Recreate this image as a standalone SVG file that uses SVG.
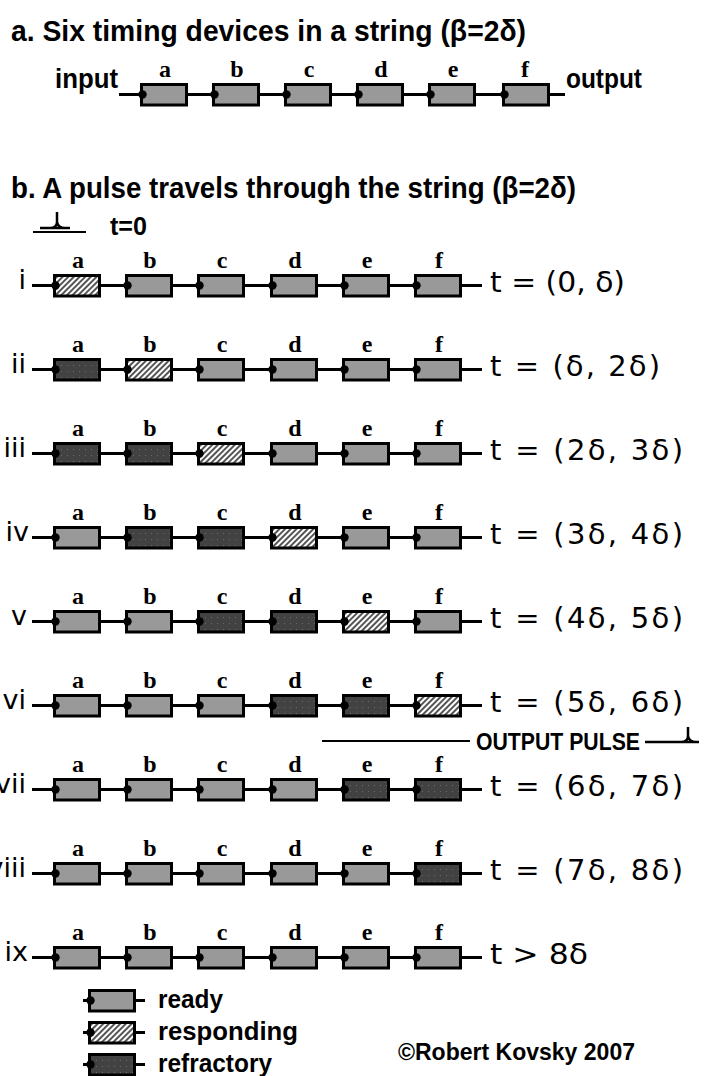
<svg xmlns="http://www.w3.org/2000/svg" xmlns:xlink="http://www.w3.org/1999/xlink" width="705" height="1076" viewBox="0 0 705 1076">
<style>
.hdr{font-family:"Liberation Sans",Arial,sans-serif;font-weight:bold;font-size:29px;fill:#000}
.bold{font-family:"Liberation Sans",Arial,sans-serif;font-weight:bold;fill:#000}
.lbl{font-family:"Liberation Serif","Times New Roman",serif;font-weight:bold;font-size:24px;fill:#000;text-anchor:middle}
.rom{font-family:"DejaVu Sans",sans-serif;font-size:27px;fill:#000;text-anchor:end}
.tim{font-family:"DejaVu Sans",sans-serif;font-size:29px;fill:#000}
.wire{stroke:#000;stroke-width:3;fill:none}
.thin{stroke:#000;stroke-width:2;fill:none}
.pulse{stroke:#000;stroke-width:2.5;fill:none}
</style>
<defs>
<pattern id="hatch" width="4" height="4" patternUnits="userSpaceOnUse" patternTransform="rotate(45)">
<rect width="4" height="4" fill="#ffffff"/>
<rect width="2" height="4" fill="#555555"/>
</pattern>
<pattern id="dots" width="6" height="6" patternUnits="userSpaceOnUse">
<rect width="6" height="6" fill="#424242"/>
<rect x="2" y="2" width="1" height="1" fill="#6a6a6a"/>
</pattern>
<g id="ready"><rect x="1.5" y="-9.5" width="45" height="20.5" fill="#999999" stroke="#000" stroke-width="3"/><circle cx="2.5" cy="0.5" r="4.2" fill="#000"/></g>
<g id="resp"><rect x="1.5" y="-9.5" width="45" height="20.5" fill="url(#hatch)" stroke="#000" stroke-width="3"/><circle cx="2.5" cy="0.5" r="4.2" fill="#000"/></g>
<g id="refr"><rect x="1.5" y="-9.5" width="45" height="20.5" fill="url(#dots)" stroke="#000" stroke-width="3"/><circle cx="2.5" cy="0.5" r="4.2" fill="#000"/></g>
</defs>
<rect width="705" height="1076" fill="#ffffff"/>

<g id="titles">
<text class="hdr" x="11" y="41" textLength="515" lengthAdjust="spacingAndGlyphs">a.  Six timing devices in a string (β=2δ)</text>
<text class="hdr" x="11" y="198" textLength="565" lengthAdjust="spacingAndGlyphs">b.  A pulse travels through the string (β=2δ)</text>
</g>

<g id="connectors">
<line class="wire" x1="119" y1="94.5" x2="565" y2="94.5"/>
<line class="wire" x1="32" y1="285.5" x2="482" y2="285.5"/>
<line class="wire" x1="32" y1="369.5" x2="482" y2="369.5"/>
<line class="wire" x1="32" y1="453.5" x2="482" y2="453.5"/>
<line class="wire" x1="32" y1="537.5" x2="482" y2="537.5"/>
<line class="wire" x1="32" y1="621.5" x2="482" y2="621.5"/>
<line class="wire" x1="32" y1="705.5" x2="482" y2="705.5"/>
<line class="wire" x1="32" y1="789.5" x2="482" y2="789.5"/>
<line class="wire" x1="32" y1="873.5" x2="482" y2="873.5"/>
<line class="wire" x1="32" y1="957.5" x2="482" y2="957.5"/>
<line class="wire" x1="83" y1="1000.5" x2="145" y2="1000.5"/>
<line class="wire" x1="83" y1="1032.5" x2="145" y2="1032.5"/>
<line class="wire" x1="83" y1="1064.5" x2="145" y2="1064.5"/>
</g>

<g id="string-a">
<text class="bold" x="55" y="88" font-size="27" textLength="63" lengthAdjust="spacingAndGlyphs">input</text>
<text class="bold" x="566" y="88" font-size="27" textLength="76" lengthAdjust="spacingAndGlyphs">output</text>
<text class="lbl" x="165" y="77">a</text><text class="lbl" x="237" y="77">b</text><text class="lbl" x="309" y="77">c</text><text class="lbl" x="381" y="77">d</text><text class="lbl" x="453" y="77">e</text><text class="lbl" x="525" y="77">f</text>
<use id="a-a" href="#ready" x="140" y="94"/><use id="a-b" href="#ready" x="212" y="94"/><use id="a-c" href="#ready" x="284" y="94"/><use id="a-d" href="#ready" x="356" y="94"/><use id="a-e" href="#ready" x="428" y="94"/><use id="a-f" href="#ready" x="502" y="94"/>
</g>

<g id="input-pulse">
<path class="pulse" d="M40,228 H70 M57,212 V222 Q57,228 50,228 M57,222 Q58,228 65,228"/>
<line class="thin" x1="33" y1="232" x2="86" y2="232"/>
<text class="bold" x="110" y="235" font-size="26" textLength="37" lengthAdjust="spacingAndGlyphs">t=0</text>
</g>

<g id="row-i">
<text class="rom" x="26" y="289">i</text>
<text class="lbl" x="78" y="268">a</text><text class="lbl" x="150" y="268">b</text><text class="lbl" x="222" y="268">c</text><text class="lbl" x="295" y="268">d</text><text class="lbl" x="367" y="268">e</text><text class="lbl" x="439" y="268">f</text>
<use href="#resp" x="53" y="285"/><use href="#ready" x="125" y="285"/><use href="#ready" x="197" y="285"/><use href="#ready" x="270" y="285"/><use href="#ready" x="342" y="285"/><use href="#ready" x="414" y="285"/>
<text class="tim" x="490" y="292" textLength="135" lengthAdjust="spacingAndGlyphs">t = (0, δ)</text>
</g>
<g id="row-ii">
<text class="rom" x="26" y="373">ii</text>
<text class="lbl" x="78" y="352">a</text><text class="lbl" x="150" y="352">b</text><text class="lbl" x="222" y="352">c</text><text class="lbl" x="295" y="352">d</text><text class="lbl" x="367" y="352">e</text><text class="lbl" x="439" y="352">f</text>
<use href="#refr" x="53" y="369"/><use href="#resp" x="125" y="369"/><use href="#ready" x="197" y="369"/><use href="#ready" x="270" y="369"/><use href="#ready" x="342" y="369"/><use href="#ready" x="414" y="369"/>
<text class="tim" x="490" y="376" textLength="170" lengthAdjust="spacing">t = (δ, 2δ)</text>
</g>
<g id="row-iii">
<text class="rom" x="26" y="457">iii</text>
<text class="lbl" x="78" y="436">a</text><text class="lbl" x="150" y="436">b</text><text class="lbl" x="222" y="436">c</text><text class="lbl" x="295" y="436">d</text><text class="lbl" x="367" y="436">e</text><text class="lbl" x="439" y="436">f</text>
<use href="#refr" x="53" y="453"/><use href="#refr" x="125" y="453"/><use href="#resp" x="197" y="453"/><use href="#ready" x="270" y="453"/><use href="#ready" x="342" y="453"/><use href="#ready" x="414" y="453"/>
<text class="tim" x="490" y="460" textLength="193" lengthAdjust="spacing">t = (2δ, 3δ)</text>
</g>
<g id="row-iv">
<text class="rom" x="29" y="541">iv</text>
<text class="lbl" x="78" y="520">a</text><text class="lbl" x="150" y="520">b</text><text class="lbl" x="222" y="520">c</text><text class="lbl" x="295" y="520">d</text><text class="lbl" x="367" y="520">e</text><text class="lbl" x="439" y="520">f</text>
<use href="#ready" x="53" y="537"/><use href="#refr" x="125" y="537"/><use href="#refr" x="197" y="537"/><use href="#resp" x="270" y="537"/><use href="#ready" x="342" y="537"/><use href="#ready" x="414" y="537"/>
<text class="tim" x="490" y="544" textLength="193" lengthAdjust="spacing">t = (3δ, 4δ)</text>
</g>
<g id="row-v">
<text class="rom" x="27" y="625">v</text>
<text class="lbl" x="78" y="604">a</text><text class="lbl" x="150" y="604">b</text><text class="lbl" x="222" y="604">c</text><text class="lbl" x="295" y="604">d</text><text class="lbl" x="367" y="604">e</text><text class="lbl" x="439" y="604">f</text>
<use href="#ready" x="53" y="621"/><use href="#ready" x="125" y="621"/><use href="#refr" x="197" y="621"/><use href="#refr" x="270" y="621"/><use href="#resp" x="342" y="621"/><use href="#ready" x="414" y="621"/>
<text class="tim" x="490" y="628" textLength="193" lengthAdjust="spacing">t = (4δ, 5δ)</text>
</g>
<g id="row-vi">
<text class="rom" x="26" y="709">vi</text>
<text class="lbl" x="78" y="688">a</text><text class="lbl" x="150" y="688">b</text><text class="lbl" x="222" y="688">c</text><text class="lbl" x="295" y="688">d</text><text class="lbl" x="367" y="688">e</text><text class="lbl" x="439" y="688">f</text>
<use href="#ready" x="53" y="705"/><use href="#ready" x="125" y="705"/><use href="#ready" x="197" y="705"/><use href="#refr" x="270" y="705"/><use href="#refr" x="342" y="705"/><use href="#resp" x="414" y="705"/>
<text class="tim" x="490" y="712" textLength="193" lengthAdjust="spacing">t = (5δ, 6δ)</text>
</g>
<g id="output-pulse">
<line class="thin" x1="322" y1="741" x2="470" y2="741"/>
<text class="bold" x="476" y="750" font-size="24" textLength="164" lengthAdjust="spacingAndGlyphs">OUTPUT PULSE</text>
<path class="pulse" d="M645,742 H699 M688,727 V736 Q688,742 681,742 M688,736 Q689,742 696,742"/>
</g>
<g id="row-vii">
<text class="rom" x="26" y="793">vii</text>
<text class="lbl" x="78" y="772">a</text><text class="lbl" x="150" y="772">b</text><text class="lbl" x="222" y="772">c</text><text class="lbl" x="295" y="772">d</text><text class="lbl" x="367" y="772">e</text><text class="lbl" x="439" y="772">f</text>
<use href="#ready" x="53" y="789"/><use href="#ready" x="125" y="789"/><use href="#ready" x="197" y="789"/><use href="#ready" x="270" y="789"/><use href="#refr" x="342" y="789"/><use href="#refr" x="414" y="789"/>
<text class="tim" x="490" y="796" textLength="193" lengthAdjust="spacing">t = (6δ, 7δ)</text>
</g>
<g id="row-viii">
<text class="rom" x="26" y="877">viii</text>
<text class="lbl" x="78" y="856">a</text><text class="lbl" x="150" y="856">b</text><text class="lbl" x="222" y="856">c</text><text class="lbl" x="295" y="856">d</text><text class="lbl" x="367" y="856">e</text><text class="lbl" x="439" y="856">f</text>
<use href="#ready" x="53" y="873"/><use href="#ready" x="125" y="873"/><use href="#ready" x="197" y="873"/><use href="#ready" x="270" y="873"/><use href="#ready" x="342" y="873"/><use href="#refr" x="414" y="873"/>
<text class="tim" x="490" y="880" textLength="193" lengthAdjust="spacing">t = (7δ, 8δ)</text>
</g>
<g id="row-ix">
<text class="rom" x="28" y="961">ix</text>
<text class="lbl" x="78" y="940">a</text><text class="lbl" x="150" y="940">b</text><text class="lbl" x="222" y="940">c</text><text class="lbl" x="295" y="940">d</text><text class="lbl" x="367" y="940">e</text><text class="lbl" x="439" y="940">f</text>
<use href="#ready" x="53" y="957"/><use href="#ready" x="125" y="957"/><use href="#ready" x="197" y="957"/><use href="#ready" x="270" y="957"/><use href="#ready" x="342" y="957"/><use href="#ready" x="414" y="957"/>
<text class="tim" x="490" y="964" textLength="98" lengthAdjust="spacingAndGlyphs">t &gt; 8δ</text>
</g>

<g id="legend">
<use href="#ready" x="88" y="1000"/>
<text class="bold" x="158" y="1008" font-size="25" textLength="65" lengthAdjust="spacingAndGlyphs">ready</text>
<use href="#resp" x="88" y="1032"/>
<text class="bold" x="158" y="1040" font-size="25" textLength="140" lengthAdjust="spacingAndGlyphs">responding</text>
<use href="#refr" x="88" y="1064"/>
<text class="bold" x="158" y="1072" font-size="25" textLength="114" lengthAdjust="spacingAndGlyphs">refractory</text>
</g>
<g id="copyright">
<text class="bold" x="398" y="1060" font-size="24" textLength="237" lengthAdjust="spacingAndGlyphs">©Robert Kovsky 2007</text>
</g>
</svg>
